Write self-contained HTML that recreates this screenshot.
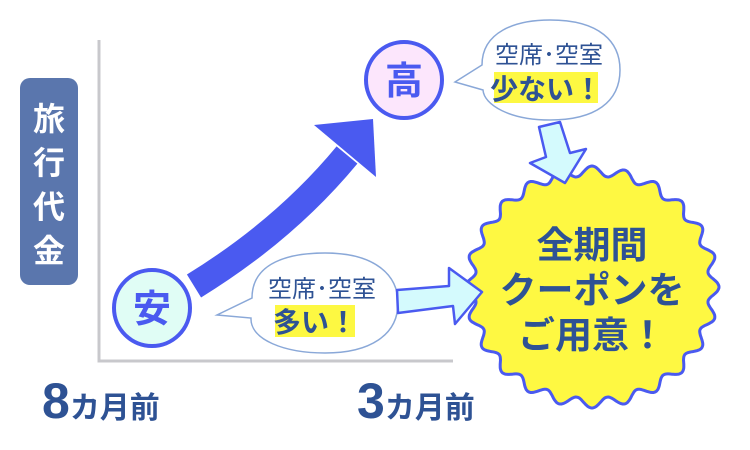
<!DOCTYPE html>
<html><head><meta charset="utf-8"><style>
html,body{margin:0;padding:0;background:#fff;width:750px;height:450px;overflow:hidden}
text{font-family:"Liberation Sans","Noto Sans CJK JP",sans-serif}
</style></head><body>
<svg width="750" height="450" viewBox="0 0 750 450" xmlns="http://www.w3.org/2000/svg">
<path d="M99 40 V361 H453" fill="none" stroke="#c8c8cc" stroke-width="3"/>
<rect x="20" y="78" width="58" height="207" rx="10" fill="#5a76ad"/>
<g fill="#fff" font-size="32" font-weight="bold" text-anchor="middle">
<text x="49" y="130">旅</text><text x="49" y="174">行</text><text x="49" y="218">代</text><text x="49" y="262">金</text>
</g>
<path d="M194 286 Q285 230 347 155" fill="none" stroke="#4a5af0" stroke-width="27"/>
<polygon points="314,125 373,119 376,177" fill="#4a5af0"/>
<circle cx="152" cy="308" r="38" fill="#e0fdf5" stroke="#4a5af0" stroke-width="4"/>
<text x="152" y="322" font-size="38" font-weight="bold" fill="#4a5af0" text-anchor="middle">安</text>
<circle cx="404" cy="80" r="38" fill="#fce6fc" stroke="#4a5af0" stroke-width="4"/>
<text x="404" y="94" font-size="38" font-weight="bold" fill="#4a5af0" text-anchor="middle">高</text>
<path d="M252 298 C252 262 290 253 325 253 C375 253 398 275 398 303 C398 335 370 353 325 353 C285 353 250 340 251 318 L217 315 Z" fill="#fff" stroke="#8aa8d8" stroke-width="1.5"/>
<text x="322" y="297" font-size="24" fill="#2e5294" text-anchor="middle">空席･空室</text>
<rect x="275" y="305" width="80" height="32" fill="#fdf842"/>
<text x="315" y="332" font-size="28" font-weight="bold" fill="#2e5294" text-anchor="middle">多い！</text>
<path d="M482 65 C482 32 515 20 550 20 C600 20 620 42 620 70 C620 102 595 120 550 120 C510 120 484 105 483 90 L455 82 Z" fill="#fff" stroke="#8aa8d8" stroke-width="1.5"/>
<text x="549" y="63" font-size="24" fill="#2e5294" text-anchor="middle">空席･空室</text>
<rect x="494" y="72" width="104" height="31" fill="#fdf842"/>
<text x="546" y="99" font-size="28" font-weight="bold" fill="#2e5294" text-anchor="middle">少ない！</text>
<path id="star" fill="#fef842" stroke="#4a5af0" stroke-width="3" stroke-linejoin="round" d=""/>
<polygon points="539,127 560,122 570,153 586,149 565,183 530,163 546,157" fill="#d4fafd" stroke="#4a5af0" stroke-width="2.5" stroke-linejoin="round"/>
<polygon points="397,290 449,286 449,268 482,292 455,324 453,306 398,313" fill="#d4fafd" stroke="#4a5af0" stroke-width="2.5" stroke-linejoin="round"/>
<g fill="#2e5294" font-size="37" font-weight="bold" text-anchor="middle">
<text x="592" y="258">全期間</text>
<text x="592" y="303">クーポンを</text>
<text x="592" y="348">ご用意！</text>
</g>
<g fill="#2e5294" font-weight="bold">
<text x="42" y="418" font-size="50">8<tspan font-size="30">カ月前</tspan></text>
<text x="357" y="418" font-size="50">3<tspan font-size="30">カ月前</tspan></text>
</g>
</svg>
<script>
(function(){var cx=592,cy=287,n=24,d="";for(var i=0;i<=720;i++){var a=i/720*2*Math.PI;var w=Math.cos(a*n);var rx=122+5*w,ry=116+5*w;var x=cx+rx*Math.cos(a),y=cy+ry*Math.sin(a);d+=(i?"L":"M")+x.toFixed(1)+" "+y.toFixed(1);}document.getElementById("star").setAttribute("d",d+"Z");})();
</script>
</body></html>
